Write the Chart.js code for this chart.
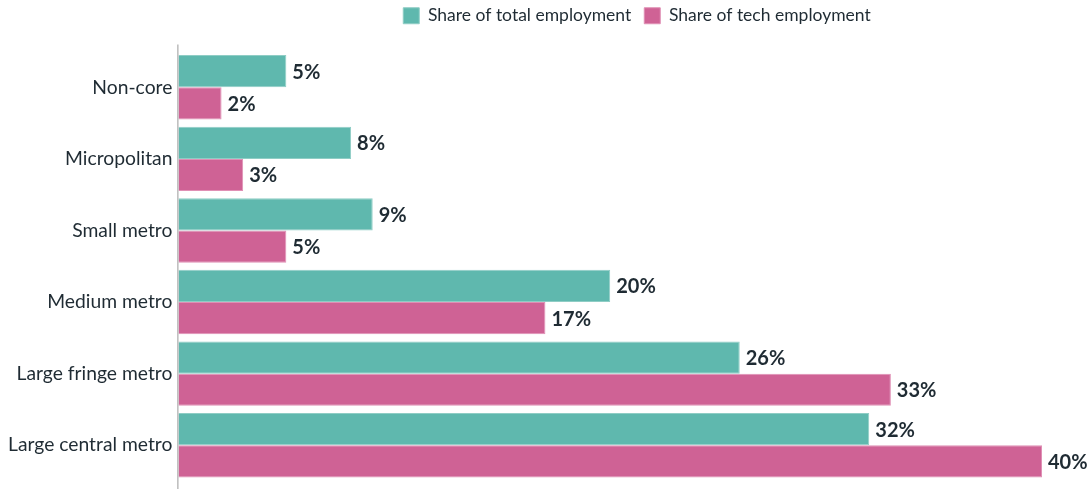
<!DOCTYPE html>
<html>
<head>
<meta charset="utf-8">
<title>Employment by county type</title>
<script src="https://cdn.jsdelivr.net/npm/chart.js@4.4.1/dist/chart.umd.min.js"></script>
<style>
    html, body { margin: 0; padding: 0; background: #ffffff; }
    #wrap { width: 1091px; height: 489px; position: relative; }
</style>
</head>
<body>
<div id="wrap"><canvas id="empChart"></canvas></div>
<script>
// county types, top to bottom
const categories = ['Non-core', 'Micropolitan', 'Small metro', 'Medium metro', 'Large fringe metro', 'Large central metro'];
// shares in percent
const totalEmployment = [5, 8, 9, 20, 26, 32];
const techEmployment = [2, 3, 5, 17, 33, 40];

const TEXT = '#1f2b33';

// value labels at the end of each bar
const barLabels = {
    id: 'barLabels',
    afterDatasetsDraw(chart) {
        const ctx = chart.ctx;
        ctx.save();
        ctx.font = 'bold 20px Lato';
        ctx.fillStyle = TEXT;
        ctx.textAlign = 'left';
        ctx.textBaseline = 'middle';
        chart.data.datasets.forEach((ds, i) => {
            chart.getDatasetMeta(i).data.forEach((bar, j) => {
                ctx.fillText(ds.data[j] + '%', bar.x + 6, bar.y + 1);
            });
        });
        ctx.restore();
    }
};

// vertical axis line, a little longer than the plot area
const axisLine = {
    id: 'axisLine',
    afterDatasetsDraw(chart) {
        const { ctx, chartArea } = chart;
        ctx.save();
        ctx.strokeStyle = '#9a9a9a';
        ctx.lineWidth = 1;
        ctx.beginPath();
        ctx.moveTo(chartArea.left - 0.5, chartArea.top - 7);
        ctx.lineTo(chartArea.left - 0.5, chartArea.bottom + 8);
        ctx.stroke();
        ctx.restore();
    }
};

// move the legend right and up once the plot area is fixed
const legendShift = {
    id: 'legendShift',
    afterLayout(chart) {
        const lg = chart.legend;
        if (lg) {
            lg.left += 115; lg.right += 115;
            lg.top -= 17; lg.bottom -= 17;
        }
    }
};

new Chart(document.getElementById('empChart'), {
    type: 'bar',
    data: {
        labels: categories,
        datasets: [
            {
                label: 'Share of total employment',
                data: totalEmployment,
                backgroundColor: '#5fb8ae',
                borderColor: '#8fcdc5',
                borderWidth: 1
            },
            {
                label: 'Share of tech employment',
                data: techEmployment,
                backgroundColor: '#cf6295',
                borderColor: '#e090b5',
                borderWidth: 1
            }
        ]
    },
    options: {
        indexAxis: 'y',
        responsive: true,
        maintainAspectRatio: false,
        animation: false,
        categoryPercentage: 0.9,
        barPercentage: 1.0,
        layout: { padding: { left: 2, right: 49, top: 11, bottom: 8 } },
        plugins: {
            legend: {
                position: 'top',
                labels: {
                    font: { family: 'Lato', size: 17.5 },
                    color: TEXT,
                    boxWidth: 16,
                    boxHeight: 16,
                    padding: 13
                }
            },
            tooltip: { enabled: false }
        },
        scales: {
            x: {
                min: 0,
                max: 40,
                display: false
            },
            y: {
                grid: { display: false, drawTicks: false },
                border: { display: false },
                ticks: {
                    font: { family: 'Lato', size: 19.3 },
                    color: TEXT,
                    padding: 6
                },
                afterFit(scale) {
                    scale.paddingTop = 0;
                    scale.paddingBottom = 0;
                }
            }
        }
    },
    plugins: [barLabels, axisLine, legendShift]
});
</script>
</body>
</html>
